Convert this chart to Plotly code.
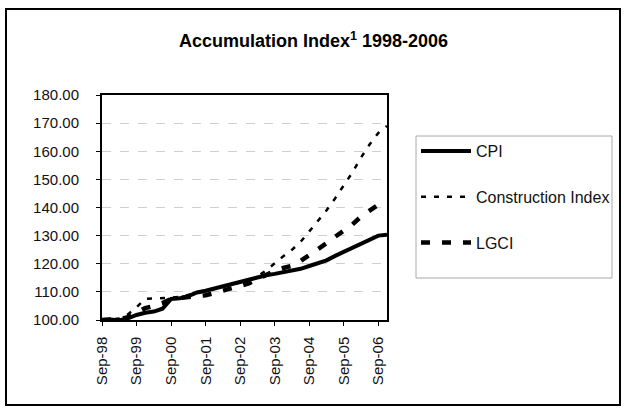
import plotly.graph_objects as go

# Quarterly index values, Sep-98 = 100
quarters = list(range(34))  # Sep-98 ... Dec-06
tick_positions = [0, 4, 8, 12, 16, 20, 24, 28, 32]
tick_labels = ["Sep-98", "Sep-99", "Sep-00", "Sep-01", "Sep-02",
               "Sep-03", "Sep-04", "Sep-05", "Sep-06"]

cpi = [100.0, 100.2, 99.8, 100.6, 101.8, 102.6, 103.0, 104.0, 107.5, 107.7,
       108.5, 109.8, 110.4, 111.2, 111.9, 112.8, 113.6, 114.6, 115.4, 115.9,
       116.4, 116.9, 117.5, 118.2, 119.2, 120.2, 121.2, 122.8, 124.3, 125.6,
       127.3, 128.8, 130.0, 130.3]

construction = [100.0, 100.2, 100.5, 102.0, 104.5, 107.5, 107.6, 107.7, 107.9, 108.2,
                108.8, 109.6, 110.3, 111.0, 111.7, 112.5, 113.3, 114.2, 115.5, 117.6,
                120.3, 122.7, 125.0, 127.8, 131.5, 135.3, 139.0, 143.3, 147.8, 152.5,
                157.8, 162.5, 166.5, 169.0]

lgci = [100.0, 100.0, 100.3, 101.0, 102.5, 104.2, 105.0, 106.0, 107.5, 107.8,
        108.0, 108.3, 108.8, 109.6, 110.4, 111.1, 111.8, 113.0, 114.5, 116.2,
        117.5, 118.5, 119.3, 121.0, 123.0, 125.2, 127.3, 129.6, 131.8, 134.0,
        136.8, 139.0, 141.0, 142.0]

FONT = "Liberation Sans, Arial, Helvetica, sans-serif"

fig = go.Figure()
fig.add_trace(go.Scatter(x=quarters, y=cpi, mode="lines", name="CPI",
                         legendgroup="a",
                         line=dict(color="#000000", width=4)))
fig.add_trace(go.Scatter(x=quarters, y=construction, mode="lines",
                         name="Construction Index", legendgroup="b",
                         line=dict(color="#000000", width=2.5, dash="5px,8px")))
fig.add_trace(go.Scatter(x=quarters, y=lgci, mode="lines", name="LGCI",
                         legendgroup="c",
                         line=dict(color="#000000", width=4.5, dash="9px,12px")))

# pixel -> paper conversions for plot area x:102-387, y:95-320
def px(xp):
    return (xp - 102) / 285.0

def py(yp):
    return (320 - yp) / 225.0

# outer frame
fig.add_shape(type="rect", xref="paper", yref="paper",
              x0=px(6), x1=px(620), y0=py(405), y1=py(9),
              line=dict(color="#000000", width=2), layer="below")
# legend frame
fig.add_shape(type="rect", xref="paper", yref="paper",
              x0=px(416), x1=px(612), y0=py(278), y1=py(136),
              line=dict(color="#a8a8a8", width=1), layer="below")

fig.update_layout(
    width=627, height=412,
    margin=dict(l=102, r=240, t=95, b=92),
    paper_bgcolor="#ffffff", plot_bgcolor="#ffffff",
    font=dict(family=FONT, size=15, color="#111111"),
    title=dict(text="<b>Accumulation Index<sup>1</sup> 1998-2006</b>",
               x=0.5, xref="container", xanchor="center",
               y=1 - 41 / 412, yref="container", yanchor="middle",
               font=dict(family=FONT, size=18, color="#000000")),
    showlegend=True,
    legend=dict(x=px(416), xanchor="left", y=py(134), yanchor="top",
                borderwidth=0, bgcolor="rgba(0,0,0,0)",
                font=dict(family=FONT, size=16, color="#111111"),
                itemwidth=50, tracegroupgap=22),
    xaxis=dict(range=[0, 33], tickmode="array", tickvals=tick_positions,
               ticktext=tick_labels, tickangle=-90, showgrid=False,
               zeroline=False, showline=True, linecolor="#000000", linewidth=1.5,
               mirror=True, ticks="outside", ticklen=4, tickcolor="#000000",
               ticklabelstandoff=5,
               tickfont=dict(family=FONT, size=15, color="#111111")),
    yaxis=dict(range=[100, 180], dtick=10, tickformat=".2f", showgrid=True,
               gridcolor="#cfcfcf", griddash="dash", gridwidth=1,
               zeroline=False, showline=True, linecolor="#000000", linewidth=2,
               mirror=True, ticks="outside", ticklen=4, tickcolor="#000000",
               ticklabelstandoff=14,
               tickfont=dict(family=FONT, size=15, color="#111111")),
)

fig.write_html("out.html",
               config={"displayModeBar": False},
               post_script="document.body.style.margin='0';"
                           "document.body.style.padding='0';")
